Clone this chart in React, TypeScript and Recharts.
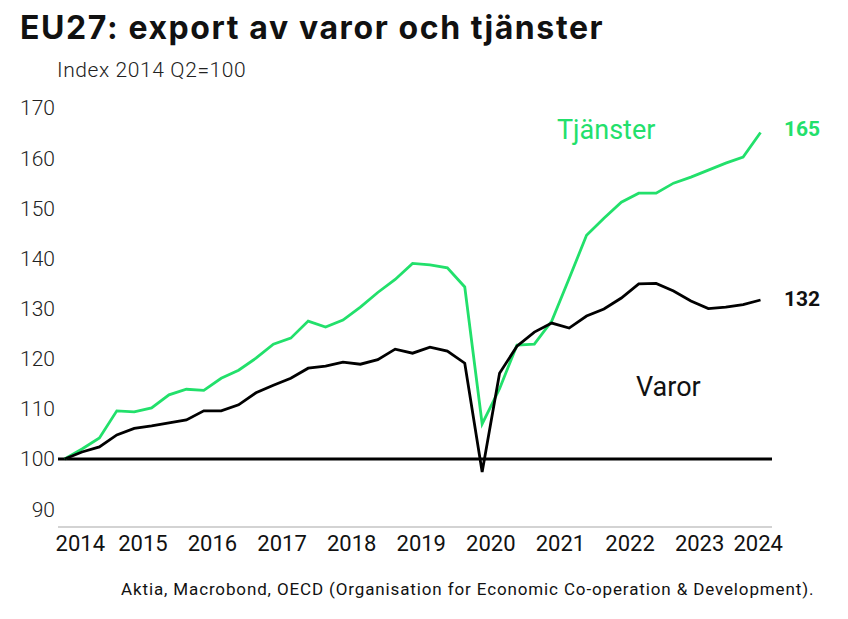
import React from "react";
import { LineChart, Line, XAxis, YAxis, ReferenceLine } from "recharts";

const GREEN = "#22e06b";
const FONT = "Roboto, 'Noto Sans', sans-serif";

// quarters 2014Q2 .. 2024Q2
const quarters = [
  "2014Q2", "2014Q3", "2014Q4",
  "2015Q1", "2015Q2", "2015Q3", "2015Q4",
  "2016Q1", "2016Q2", "2016Q3", "2016Q4",
  "2017Q1", "2017Q2", "2017Q3", "2017Q4",
  "2018Q1", "2018Q2", "2018Q3", "2018Q4",
  "2019Q1", "2019Q2", "2019Q3", "2019Q4",
  "2020Q1", "2020Q2", "2020Q3", "2020Q4",
  "2021Q1", "2021Q2", "2021Q3", "2021Q4",
  "2022Q1", "2022Q2", "2022Q3", "2022Q4",
  "2023Q1", "2023Q2", "2023Q3", "2023Q4",
  "2024Q1", "2024Q2",
];

const tjanster = [
  100, 102, 104.2,
  109.6, 109.4, 110.2, 112.8,
  113.9, 113.7, 116.1, 117.7,
  120.1, 122.9, 124.1, 127.5,
  126.3, 127.7, 130.3, 133.2,
  135.8, 139, 138.7, 138.1,
  134.3, 107, 114, 122.7,
  122.9, 127.5, 136, 144.6,
  148, 151.2, 153, 153,
  155, 156.2, 157.6, 159,
  160.2, 165.1,
];

const varor = [
  100, 101.4, 102.4,
  104.8, 106.1, 106.6, 107.2,
  107.8, 109.6, 109.6, 110.8,
  113.2, 114.7, 116.1, 118.1,
  118.5, 119.3, 118.9, 119.8,
  121.9, 121.1, 122.3, 121.5,
  119.1, 97.4, 117.1, 122.5,
  125.3, 127.1, 126.1, 128.5,
  129.9, 132.1, 134.9, 135,
  133.5, 131.5, 130, 130.3,
  130.8, 131.7,
];

const years = [2014, 2015, 2016, 2017, 2018, 2019, 2020, 2021, 2022, 2023, 2024];
const yTicks = [90, 100, 110, 120, 130, 140, 150, 160, 170];

// quarter midpoint as decimal year
const toX = (q: string) => Number(q.slice(0, 4)) + (Number(q.slice(5)) - 0.5) / 4;

const data = quarters.map((q, i) => ({
  x: toX(q),
  tjanster: tjanster[i],
  varor: varor[i],
}));

function YearTick({ x, y, payload }: any) {
  const yr = Math.floor(payload.value);
  // first and last labels are pulled inwards like the original
  const dx = yr === years[0] ? 7 : yr === years[years.length - 1] ? -11 : 0;
  return (
    <text x={x + dx} y={y} dy={16} textAnchor="middle" fontFamily={FONT} fontSize={22} fill="#111">
      {yr}
    </text>
  );
}

export default function App() {
  const lastT = Math.round(tjanster[tjanster.length - 1]);
  const lastV = Math.round(varor[varor.length - 1]);

  return (
    <div style={{ position: "absolute", left: 0, top: 0, width: 848, height: 619, background: "#fff", fontFamily: FONT }}>
      <div style={{ position: "absolute", left: 20, top: 9, fontFamily: "Inter, sans-serif", fontSize: 32, lineHeight: "38px", fontWeight: 700, letterSpacing: 1.6, color: "#111", whiteSpace: "nowrap" }}>
        EU27: export av varor och tjänster
      </div>
      <div style={{ position: "absolute", left: 57, top: 58, fontSize: 21, fontWeight: 300, letterSpacing: 0.6, color: "#222", whiteSpace: "nowrap" }}>
        Index 2014 Q2=100
      </div>

      <LineChart
        width={848}
        height={619}
        data={data}
        margin={{ top: 83, right: 76, bottom: 32, left: 0 }}
      >
        <XAxis
          dataKey="x"
          type="number"
          domain={[2014.28, 2024.54]}
          ticks={years.map((y) => y + 0.5)}
          tick={<YearTick />}
          tickLine={false}
          axisLine={{ stroke: "#c4c4c4", strokeWidth: 1.5 }}
          height={60}
          allowDataOverflow
        />
        <YAxis
          type="number"
          domain={[86.44, 174.97]}
          ticks={yTicks}
          width={58}
          axisLine={false}
          tickLine={false}
          tickSize={0}
          tickMargin={3}
          allowDataOverflow
          tick={{ fontFamily: FONT, fontSize: 21, fontWeight: 300, fill: "#222" }}
        />
        <ReferenceLine y={100} stroke="#000" strokeWidth={3} ifOverflow="extendDomain" />
        <Line
          dataKey="tjanster"
          type="linear"
          stroke={GREEN}
          strokeWidth={2.8}
          dot={false}
          isAnimationActive={false}
        />
        <Line
          dataKey="varor"
          type="linear"
          stroke="#000"
          strokeWidth={2.8}
          dot={false}
          isAnimationActive={false}
        />
      </LineChart>

      <div style={{ position: "absolute", left: 557, top: 114, fontSize: 27, color: GREEN, whiteSpace: "nowrap" }}>
        Tjänster
      </div>
      <div style={{ position: "absolute", left: 636, top: 371, fontSize: 27, color: "#111", whiteSpace: "nowrap" }}>
        Varor
      </div>
      <div style={{ position: "absolute", left: 784, top: 117, fontSize: 21, fontWeight: 700, color: GREEN }}>
        {lastT}
      </div>
      <div style={{ position: "absolute", left: 784, top: 287, fontSize: 21, fontWeight: 700, color: "#111" }}>
        {lastV}
      </div>

      <div style={{ position: "absolute", left: 121, top: 579, fontSize: 17, letterSpacing: 0.87, color: "#111", whiteSpace: "nowrap" }}>
        Aktia, Macrobond, OECD (Organisation for Economic Co-operation &amp; Development).
      </div>
    </div>
  );
}
